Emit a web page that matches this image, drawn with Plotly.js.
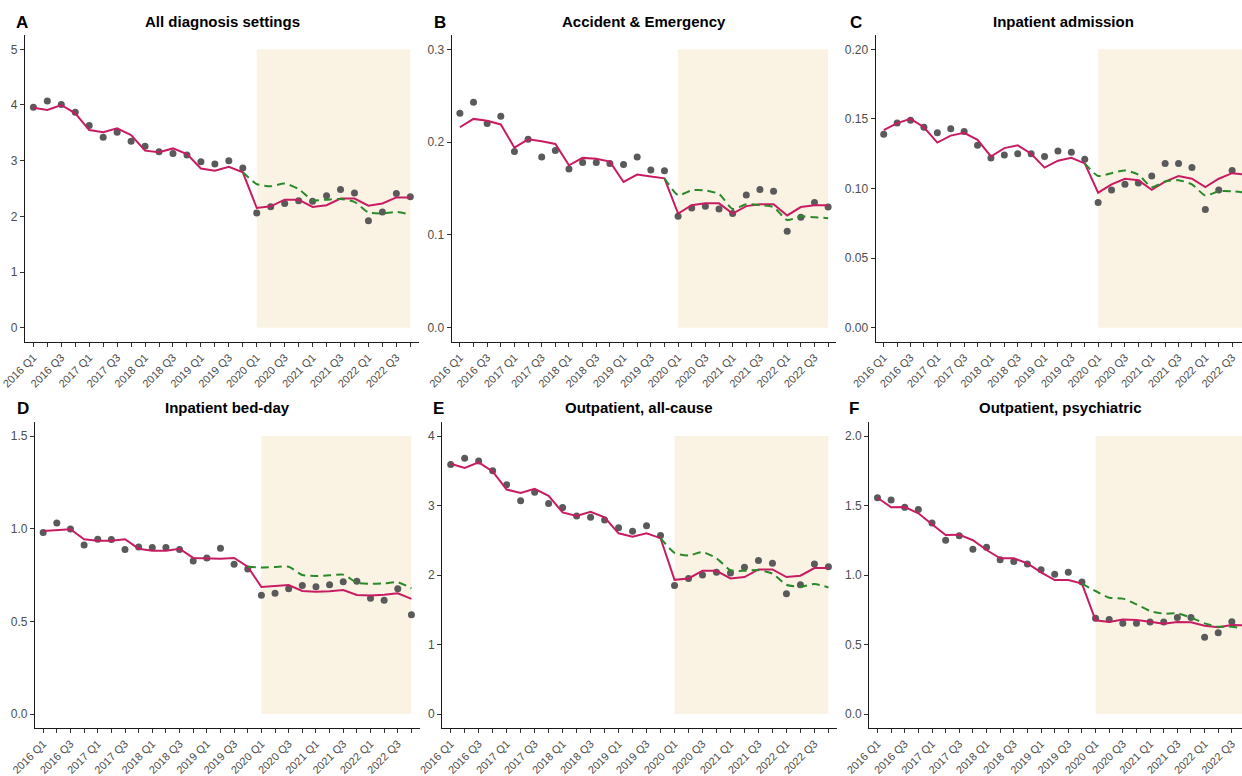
<!DOCTYPE html>
<html>
<head>
<meta charset="utf-8">
<script src="https://cdn.plot.ly/plotly-3.0.1.min.js"></script>
<style>html,body{margin:0;padding:0;background:#fff;}#chart{width:1242px;height:776px;}</style>
</head>
<body>
<div id="chart"></div>
<script>
// ---------- data ----------
const quarters = ['2016 Q1','2016 Q2','2016 Q3','2016 Q4','2017 Q1','2017 Q2','2017 Q3','2017 Q4',
  '2018 Q1','2018 Q2','2018 Q3','2018 Q4','2019 Q1','2019 Q2','2019 Q3','2019 Q4',
  '2020 Q1','2020 Q2','2020 Q3','2020 Q4','2021 Q1','2021 Q2','2021 Q3','2021 Q4',
  '2022 Q1','2022 Q2','2022 Q3','2022 Q4'];
const tickText = ['2016 Q1','','2016 Q3','','2017 Q1','','2017 Q3','',
  '2018 Q1','','2018 Q3','','2019 Q1','','2019 Q3','',
  '2020 Q1','','2020 Q3','','2021 Q1','','2021 Q3','',
  '2022 Q1','','2022 Q3',''];
// counterfactual series start at 2019 Q4
const cfQuarters = quarters.slice(15);
const pandemicStart = '2020 Q1';
const pandemicEnd = '2022 Q4';

const panelTitles = ['All diagnosis settings','Accident & Emergency','Inpatient admission',
  'Inpatient bed-day','Outpatient, all-cause','Outpatient, psychiatric'];
const panelLetters = ['A','B','C','D','E','F'];

const obsAll = [3.96,4.07,4.01,3.87,3.63,3.42,3.51,3.35,3.26,3.16,3.13,3.10,2.98,2.94,3.00,2.87,2.06,2.17,2.23,2.28,2.27,2.37,2.48,2.42,1.92,2.08,2.41,2.35];
const fitAll = [3.95,3.91,4.00,3.85,3.55,3.51,3.58,3.46,3.18,3.15,3.22,3.12,2.86,2.82,2.89,2.79,2.15,2.18,2.30,2.30,2.17,2.20,2.32,2.32,2.19,2.23,2.34,2.34];
const cfAll  = [2.79,2.58,2.54,2.59,2.49,2.29,2.30,2.31,2.26,2.07,2.05,2.08,2.03];

const obsAE = [0.231,0.243,0.220,0.228,0.190,0.203,0.184,0.191,0.171,0.178,0.178,0.177,0.176,0.184,0.170,0.169,0.120,0.129,0.131,0.128,0.123,0.143,0.149,0.147,0.104,0.119,0.135,0.130];
const fitAE = [0.216,0.225,0.223,0.219,0.194,0.203,0.201,0.198,0.175,0.183,0.182,0.179,0.157,0.165,0.163,0.161,0.123,0.132,0.134,0.134,0.123,0.131,0.133,0.133,0.121,0.130,0.132,0.132];
const cfAE  = [0.161,0.143,0.148,0.148,0.144,0.128,0.133,0.132,0.130,0.116,0.120,0.119,0.118];

const obsAdm = [0.139,0.147,0.149,0.144,0.140,0.143,0.141,0.131,0.122,0.124,0.125,0.125,0.123,0.127,0.126,0.121,0.090,0.099,0.103,0.104,0.109,0.118,0.118,0.115,0.085,0.099,0.113,0.110];
const fitAdm = [0.142,0.147,0.150,0.144,0.133,0.138,0.140,0.135,0.123,0.129,0.131,0.125,0.115,0.120,0.122,0.118,0.097,0.103,0.107,0.106,0.099,0.105,0.109,0.107,0.101,0.107,0.111,0.110];
const cfAdm  = [0.118,0.109,0.111,0.113,0.110,0.101,0.105,0.106,0.103,0.095,0.098,0.098,0.097];

const obsBed = [0.979,1.031,0.998,0.912,0.943,0.941,0.887,0.901,0.898,0.899,0.887,0.826,0.842,0.894,0.808,0.783,0.641,0.651,0.676,0.693,0.687,0.698,0.714,0.716,0.624,0.614,0.676,0.536];
const fitBed = [0.988,0.991,0.997,0.943,0.935,0.935,0.943,0.892,0.881,0.881,0.892,0.842,0.838,0.838,0.842,0.795,0.685,0.689,0.696,0.664,0.660,0.662,0.669,0.642,0.639,0.644,0.651,0.621];
const cfBed  = [0.795,0.791,0.793,0.795,0.750,0.745,0.748,0.752,0.709,0.703,0.705,0.711,0.678];

const obsOut = [3.59,3.68,3.64,3.50,3.30,3.07,3.19,3.03,2.97,2.85,2.83,2.79,2.68,2.63,2.71,2.57,1.85,1.95,2.00,2.04,2.03,2.11,2.21,2.17,1.73,1.86,2.16,2.12];
const fitOut = [3.60,3.54,3.62,3.49,3.23,3.18,3.24,3.14,2.90,2.85,2.91,2.83,2.60,2.55,2.60,2.53,1.93,1.95,2.06,2.06,1.95,1.97,2.08,2.08,1.97,1.99,2.10,2.10];
const cfOut  = [2.53,2.32,2.28,2.33,2.24,2.07,2.06,2.07,2.02,1.86,1.83,1.87,1.82];

const obsPsy = [1.556,1.540,1.487,1.472,1.374,1.250,1.283,1.185,1.199,1.110,1.098,1.079,1.038,1.005,1.019,0.950,0.688,0.679,0.652,0.652,0.662,0.662,0.695,0.695,0.552,0.585,0.664,0.640];
const fitPsy = [1.556,1.487,1.489,1.444,1.365,1.288,1.290,1.250,1.180,1.120,1.120,1.084,1.019,0.964,0.964,0.938,0.674,0.662,0.679,0.676,0.664,0.650,0.662,0.660,0.635,0.624,0.640,0.638];
const cfPsy  = [0.938,0.885,0.837,0.830,0.789,0.741,0.722,0.724,0.693,0.652,0.628,0.628,0.612];

const yMax   = [5, 0.3, 0.2, 1.5, 4, 2];
const yDtick = [1, 0.1, 0.05, 0.5, 1, 0.5];
const yFormat= ['d', '.1f', '.2f', '.1f', 'd', '.1f'];

const observed = [obsAll, obsAE, obsAdm, obsBed, obsOut, obsPsy];
const fitted   = [fitAll, fitAE, fitAdm, fitBed, fitOut, fitPsy];
const counterf = [cfAll, cfAE, cfAdm, cfBed, cfOut, cfPsy];

// ---------- layout geometry (pixels) ----------
const W = 1242, H = 776;
const FONT = 'Liberation Sans, Arial, sans-serif';
const panelX = [[25, 418.7], [451.7, 836.3], [875.7, 1242], [35, 419.6], [442.3, 836.8], [869.3, 1242]];
const rowY = [[35.4, 341.6], [422.1, 727.9]];
const xRangeEnd = [27.6, 27.6, -0.6 + (1242 - 875.7) / 13.4, 27.6, 27.6, -0.6 + (1242 - 869.3) / 13.63];
const titleX = [222, 644, 1063, 227, 639, 1060];
const letterX = [14, 432, 848, 15, 431, 847];
const titleY = [21.7, 407.7];

const traces = [];
const layout = {
  width: W, height: H,
  margin: {l: 0, r: 0, t: 0, b: 0},
  paper_bgcolor: '#ffffff', plot_bgcolor: 'rgba(0,0,0,0)',
  showlegend: false,
  font: {family: FONT},
  shapes: [], annotations: []
};

for (let i = 0; i < 6; i++) {
  const n = i + 1;
  const xa = 'x' + (n === 1 ? '' : n), ya = 'y' + (n === 1 ? '' : n);
  const xk = 'xaxis' + (n === 1 ? '' : n), yk = 'yaxis' + (n === 1 ? '' : n);
  const row = i < 3 ? 0 : 1;
  const yr = rowY[row];
  const pad = yMax[i] * 0.05;

  layout[xk] = {
    domain: [panelX[i][0] / W, Math.min(1, panelX[i][1] / W)],
    anchor: ya, type: 'category', categoryorder: 'array', categoryarray: quarters,
    range: [-0.6, xRangeEnd[i]],
    tickmode: 'array', tickvals: quarters, ticktext: tickText,
    tickangle: -45, ticks: 'outside', ticklen: 4, tickwidth: 1, tickcolor: '#333333',
    tickfont: {family: FONT, size: 11, color: '#4D4D4D'},
    showline: true, linecolor: '#1a1a1a', linewidth: 1.2,
    showgrid: false, zeroline: false, automargin: false, fixedrange: true
  };
  layout[yk] = {
    domain: [(H - yr[1]) / H, (H - yr[0]) / H],
    anchor: xa, range: [-pad, yMax[i] + pad],
    tickmode: 'linear', tick0: 0, dtick: yDtick[i], tickformat: yFormat[i],
    ticks: 'outside', ticklen: 4, tickwidth: 1, tickcolor: '#333333',
    tickfont: {family: FONT, size: 12, color: '#4D4D4D'},
    showline: true, linecolor: '#1a1a1a', linewidth: 1.2,
    showgrid: false, zeroline: false, automargin: false, fixedrange: true
  };

  layout.shapes.push({
    type: 'rect', xref: xa, yref: ya, layer: 'below',
    x0: quarters.indexOf(pandemicStart), x1: quarters.indexOf(pandemicEnd),
    y0: 0, y1: yMax[i],
    fillcolor: '#FAF2E3', line: {width: 0}
  });

  traces.push({
    type: 'scatter', mode: 'markers', x: quarters, y: observed[i],
    xaxis: xa, yaxis: ya, cliponaxis: true,
    marker: {size: 7, color: '#5A5A5A'}, hoverinfo: 'skip'
  });
  traces.push({
    type: 'scatter', mode: 'lines', x: quarters, y: fitted[i],
    xaxis: xa, yaxis: ya,
    line: {color: '#C81C62', width: 2}, hoverinfo: 'skip'
  });
  traces.push({
    type: 'scatter', mode: 'lines', x: cfQuarters, y: counterf[i],
    xaxis: xa, yaxis: ya,
    line: {color: '#2A8A2A', width: 2, dash: '8px,5px', shape: 'spline', smoothing: 0.6},
    hoverinfo: 'skip'
  });

  layout.annotations.push({
    xref: 'paper', yref: 'paper', x: titleX[i] / W, y: 1 - titleY[row] / H,
    xanchor: 'center', yanchor: 'middle', showarrow: false,
    text: '<b>' + panelTitles[i].replace('&', '&amp;') + '</b>',
    font: {family: FONT, size: 15, color: '#000000'}
  });
  layout.annotations.push({
    xref: 'paper', yref: 'paper', x: letterX[i] / W, y: 1 - (titleY[row] + 1) / H,
    xanchor: 'left', yanchor: 'middle', showarrow: false,
    text: '<b>' + panelLetters[i] + '</b>',
    font: {family: FONT, size: 17, color: '#000000'}
  });
}

Plotly.newPlot('chart', traces, layout, {staticPlot: true, displayModeBar: false});
</script>
</body>
</html>
